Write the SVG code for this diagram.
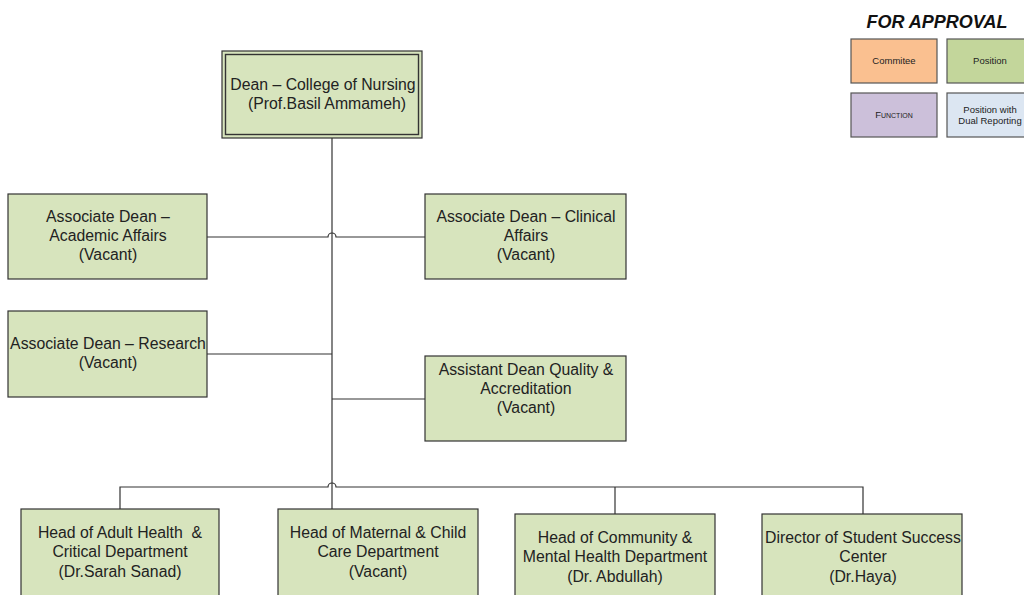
<svg xmlns="http://www.w3.org/2000/svg" width="1024" height="595" viewBox="0 0 1024 595">
<style>
.box{fill:#D7E4BD;stroke:#333;stroke-width:1.2}
.t{font-family:"Liberation Sans",Arial,sans-serif;font-size:15.8px;fill:#222;text-anchor:middle}
.lt{font-family:"Liberation Sans",Arial,sans-serif;font-size:9.5px;fill:#222;text-anchor:middle}
.lg{stroke:#555;stroke-width:1.2}
.c{fill:none;stroke:#333;stroke-width:1.2}
</style>
<rect width="1024" height="595" fill="#fff"/>
<g id="legend">
<text x="937" y="28" font-family="'Liberation Sans',Arial,sans-serif" font-size="18" font-weight="bold" font-style="italic" fill="#111" text-anchor="middle">FOR APPROVAL</text>
<rect class="lg" x="851" y="39" width="86" height="44" fill="#FAC090"/>
<text class="lt" x="894" y="64">Commitee</text>
<rect class="lg" x="947" y="39" width="86" height="44" fill="#C3D69B"/>
<text class="lt" x="990" y="64">Position</text>
<rect class="lg" x="851" y="93" width="86" height="44" fill="#CCC0DA"/>
<text class="lt" x="894" y="118" style="font-variant:small-caps">Function</text>
<rect class="lg" x="947" y="93" width="86" height="44" fill="#DCE6F2"/>
<text class="lt" x="990" y="113">Position with</text>
<text class="lt" x="990" y="124">Dual Reporting</text>
</g>
<g id="connectors">
<path class="c" d="M332,138 V509"/>
<path class="c" d="M207,237 H328 a4,4 0 0 1 8,0 H425"/>
<path class="c" d="M207,354 H332"/>
<path class="c" d="M332,399 H425"/>
<path class="c" d="M120,509 V487 H328 a4,4 0 0 1 8,0 H863 V514"/>
<path class="c" d="M615,487 V514"/>
</g>
<g id="dean">
<rect x="222" y="51" width="200" height="87" fill="#D7E4BD" stroke="#333" stroke-width="1.2"/>
<rect x="225.5" y="54.5" width="193" height="80" fill="none" stroke="#333" stroke-width="1.4"/>
<text class="t" x="323" y="90">Dean – College of Nursing</text>
<text class="t" x="327" y="109">(Prof.Basil Ammameh)</text>
</g>
<g id="assoc-academic">
<rect class="box" x="8" y="194" width="199" height="85"/>
<text class="t" x="108" y="222">Associate Dean –</text>
<text class="t" x="108" y="241">Academic Affairs</text>
<text class="t" x="108" y="260">(Vacant)</text>
</g>
<g id="assoc-clinical">
<rect class="box" x="425" y="194" width="201" height="85"/>
<text class="t" x="526" y="222">Associate Dean – Clinical</text>
<text class="t" x="526" y="241">Affairs</text>
<text class="t" x="526" y="260">(Vacant)</text>
</g>
<g id="assoc-research">
<rect class="box" x="8" y="311" width="199" height="86"/>
<text class="t" x="108" y="349">Associate Dean – Research</text>
<text class="t" x="108" y="368">(Vacant)</text>
</g>
<g id="assist-quality">
<rect class="box" x="425" y="356" width="201" height="85"/>
<text class="t" x="526" y="375">Assistant Dean Quality &amp;</text>
<text class="t" x="526" y="394">Accreditation</text>
<text class="t" x="526" y="413">(Vacant)</text>
</g>
<g id="head-adult">
<rect class="box" x="21" y="509" width="198" height="95"/>
<text class="t" x="120" y="538" xml:space="preserve">Head of Adult Health  &amp;</text>
<text class="t" x="120" y="557">Critical Department</text>
<text class="t" x="120" y="577">(Dr.Sarah Sanad)</text>
</g>
<g id="head-maternal">
<rect class="box" x="278" y="509" width="200" height="95"/>
<text class="t" x="378" y="538">Head of Maternal &amp; Child</text>
<text class="t" x="378" y="557">Care Department</text>
<text class="t" x="378" y="577">(Vacant)</text>
</g>
<g id="head-community">
<rect class="box" x="515" y="514" width="200" height="90"/>
<text class="t" x="615" y="543">Head of Community &amp;</text>
<text class="t" x="615" y="562">Mental Health Department</text>
<text class="t" x="615" y="582">(Dr. Abdullah)</text>
</g>
<g id="director-student">
<rect class="box" x="762" y="514" width="200" height="90"/>
<text class="t" x="863" y="543">Director of Student Success</text>
<text class="t" x="863" y="562">Center</text>
<text class="t" x="863" y="582">(Dr.Haya)</text>
</g>
</svg>
